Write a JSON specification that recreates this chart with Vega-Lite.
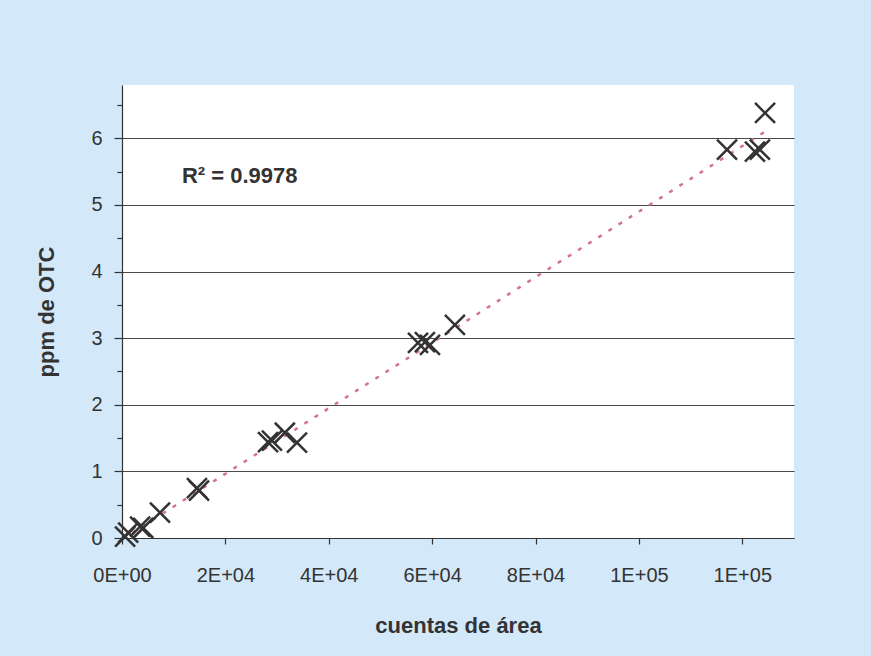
{
  "$schema": "https://vega.github.io/schema/vega-lite/v6.json",
  "width": 672,
  "height": 453,
  "autosize": {"type": "none"},
  "padding": {"left": 122, "top": 85, "right": 77, "bottom": 118},
  "background": "#d3e8f9",
  "config": {
    "view": {"fill": "white", "stroke": null},
    "font": "Liberation Sans",
    "axis": {
      "domainColor": "#333333",
      "domainWidth": 1.2,
      "tickColor": "#333333",
      "tickWidth": 1.2,
      "labelColor": "#333333",
      "labelFont": "Liberation Sans",
      "labelFontSize": 20,
      "labelFlush": false,
      "titleColor": "#333333",
      "titleFont": "Liberation Sans",
      "titleFontSize": 22,
      "titleFontWeight": "bold"
    }
  },
  "datasets": {
    "points": [
      {"x": 600, "y": 0.02},
      {"x": 1200, "y": 0.08},
      {"x": 3500, "y": 0.17},
      {"x": 4100, "y": 0.15},
      {"x": 7350, "y": 0.38},
      {"x": 14500, "y": 0.75},
      {"x": 14900, "y": 0.71},
      {"x": 28250, "y": 1.44},
      {"x": 29000, "y": 1.46},
      {"x": 31500, "y": 1.58},
      {"x": 33850, "y": 1.43},
      {"x": 57260, "y": 2.93},
      {"x": 58600, "y": 2.94},
      {"x": 59580, "y": 2.90},
      {"x": 64400, "y": 3.2},
      {"x": 117040, "y": 5.83},
      {"x": 122450, "y": 5.8},
      {"x": 123400, "y": 5.83},
      {"x": 124400, "y": 6.38}
    ],
    "trend": [
      {"x": 0, "y": -0.02},
      {"x": 124400, "y": 6.1}
    ],
    "label": [
      {"x": 11600, "y": 5.33, "text": "R² = 0.9978"}
    ]
  },
  "encoding": {
    "x": {
      "field": "x",
      "type": "quantitative",
      "scale": {"domain": [0, 130000], "nice": false, "zero": false},
      "axis": {
        "title": "cuentas de área",
        "values": [0, 20000, 40000, 60000, 80000, 100000, 120000],
        "labelExpr": "replace(upper(format(datum.value, '.0e')), '+', '+0')",
        "grid": false,
        "tickSize": 6,
        "labelPadding": 21,
        "titlePadding": 30
      }
    },
    "y": {
      "field": "y",
      "type": "quantitative",
      "scale": {"domain": [0, 6.8], "nice": false, "zero": false},
      "axis": {
        "title": "ppm de OTC",
        "values": [0, 0.5, 1, 1.5, 2, 2.5, 3, 3.5, 4, 4.5, 5, 5.5, 6, 6.5],
        "labelExpr": "datum.value % 1 === 0 ? format(datum.value, 'd') : ''",
        "grid": true,
        "gridColor": "#4a4a4a",
        "gridWidth": 1.2,
        "gridOpacity": {"condition": {"test": "datum.value % 1 === 0", "value": 1}, "value": 0},
        "tickSize": {"condition": {"test": "datum.value % 1 === 0", "value": 8}, "value": 5},
        "labelPadding": 12,
        "titlePadding": 32
      }
    }
  },
  "layer": [
    {
      "data": {"name": "trend"},
      "mark": {"type": "line", "color": "#d47391", "strokeWidth": 2.5, "strokeDash": [4, 8], "clip": true}
    },
    {
      "data": {"name": "points"},
      "mark": {
        "type": "point",
        "shape": "M-1,-1L1,1M1,-1L-1,1",
        "size": 400,
        "filled": false,
        "color": "#333333",
        "strokeWidth": 2.5,
        "opacity": 1
      }
    },
    {
      "data": {"name": "label"},
      "mark": {
        "type": "text",
        "align": "left",
        "baseline": "alphabetic",
        "fontSize": 22,
        "fontWeight": "bold",
        "color": "#333333",
        "font": "Liberation Sans"
      },
      "encoding": {"text": {"field": "text", "type": "nominal"}}
    }
  ]
}
